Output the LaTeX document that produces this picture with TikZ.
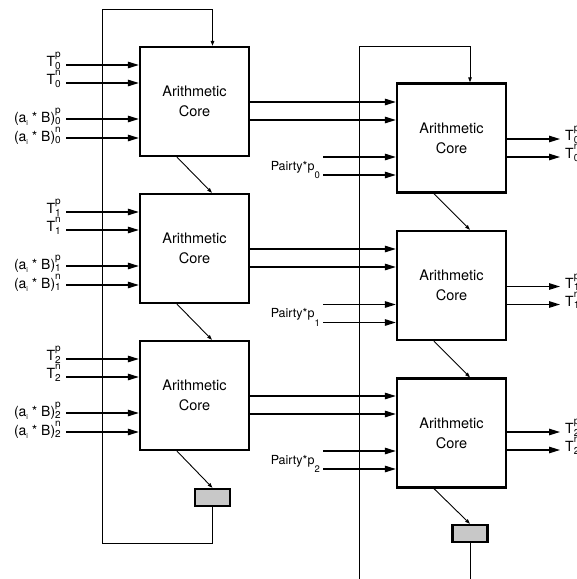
\documentclass[tikz,border=0pt]{standalone}
\usepackage{fontspec}
\setmainfont{TeX Gyre Heros}
\usetikzlibrary{arrows.meta}
\definecolor{regfill}{HTML}{C8C8C8}
\newcommand{\supsb}[2]{\rlap{\raisebox{9pt}{\fontsize{10}{10}\selectfont #1}}\raisebox{-2.5pt}{\fontsize{10}{10}\selectfont #2}}
\newcommand{\aiB}{(a\raisebox{-3.5pt}{\fontsize{7}{7}\selectfont i} * B)}
\newcommand{\pairty}[1]{Pairty*p\raisebox{-8.5pt}{\fontsize{9.5}{9.5}\selectfont #1}}
\begin{document}
\begin{tikzpicture}[x=1pt,y=-1pt,
  core/.style={draw,line width=2.3pt,minimum width=109pt,minimum height=109pt,inner sep=0pt,align=center,font=\fontsize{14.5}{20}\selectfont},
  reg/.style={draw,line width=2.3pt,fill=regfill,minimum width=35pt,minimum height=17pt,inner sep=0pt},
  big/.style={line width=1.3pt,-{Triangle[length=11pt,width=6.5pt]}},
  small/.style={line width=0.9pt,-{Triangle[length=5pt,width=3.5pt]}},
  fb/.style={line width=1pt},
  lbl/.style={inner sep=0pt,font=\fontsize{14}{14}\selectfont},
  plbl/.style={inner sep=0pt,font=\fontsize{12.5}{12.5}\selectfont}]
\useasboundingbox (0,0) rectangle (577,579);
\clip (0,0) rectangle (577,579);

% cores
\node[core] (L1) at (194.5,101.5) {Arithmetic\\Core};
\node[core] (L2) at (194.5,248.5) {Arithmetic\\Core};
\node[core] (L3) at (194.5,395.5) {Arithmetic\\Core};
\node[core] (R1) at (451.5,138) {Arithmetic\\Core};
\node[core] (R2) at (451.5,285.5) {Arithmetic\\Core};
\node[core] (R3) at (451.5,433) {Arithmetic\\Core};
\node[reg] (G1) at (212.5,497.5) {};
\node[reg] (G2) at (470,533.5) {};

% feedback loops
\coordinate (lb) at (102,543);
\coordinate (lt) at (102,9);
\draw[fb,-{Triangle[length=5pt,width=3.5pt]}] (G1.south) |- (lb) -- (lt) -| (L1.north -| G1.center);
\coordinate (rb) at (359,590);
\coordinate (rt) at (359,46);
\draw[fb,-{Triangle[length=5pt,width=3.5pt]}] (rb) -- (rt) -| (R1.north -| G2.center);
\draw[fb] (G2.south) -- (G2.south |- rb);

% left inputs
\foreach \n/\y in {0/65,1/212,2/359}{
  \coordinate (tp\n) at (66,\y);
  \coordinate (tn\n) at (66,\y+18);
  \coordinate (ap\n) at (66,\y+54);
  \coordinate (an\n) at (66,\y+73);
  \node[lbl,anchor=base east] at (61,\y+1.5) {T\supsb{p}{\n}};
  \node[lbl,anchor=base east] at (61,\y+19.5) {T\supsb{n}{\n}};
  \node[lbl,anchor=base east] at (61,\y+57) {\aiB\supsb{p}{\n}};
  \node[lbl,anchor=base east] at (61,\y+76) {\aiB\supsb{n}{\n}};
}
\foreach \n/\b in {0/L1,1/L2,2/L3}{
  \draw[big] (tp\n) -- (tp\n -| \b.west);
  \draw[big] (tn\n) -- (tn\n -| \b.west);
  \draw[big] (ap\n) -- (ap\n -| \b.west);
  \draw[big] (an\n) -- (an\n -| \b.west);
}

% left to right
\draw[big] (L1.east |- 0,102) -- (R1.west |- 0,102);
\draw[big] (L1.east |- 0,120) -- (R1.west |- 0,120);
\draw[big] (L2.east |- 0,249) -- (R2.west |- 0,249);
\draw[big] (L2.east |- 0,267) -- (R2.west |- 0,267);
\draw[big] (L3.east |- 0,396) -- (R3.west |- 0,396);
\draw[big] (L3.east |- 0,414) -- (R3.west |- 0,414);

% pairty inputs
\foreach \n/\y/\b in {0/157/R1,1/304.5/R2,2/451/R3}{
  \coordinate (pa\n) at (323,\y);
  \coordinate (pb\n) at (323,\y+18);
  \node[plbl,anchor=base east] at (320,\y+13) {\pairty{\n}};
  \draw[big] (pa\n) -- (pa\n -| \b.west);
  \draw[big] (pb\n) -- (pb\n -| \b.west);
}

% outputs
\foreach \n/\y/\b in {0/139/R1,1/286.5/R2,2/432/R3}{
  \coordinate (op\n) at (560,\y);
  \coordinate (on\n) at (560,\y+18);
  \draw[big] (\b.east |- op\n) -- (op\n);
  \draw[big] (\b.east |- on\n) -- (on\n);
  \node[lbl,anchor=base west] at (565,\y+1.5) {T\supsb{p}{\n}};
  \node[lbl,anchor=base west] at (565,\y+19.5) {T\supsb{n}{\n}};
}

% diagonal chain arrows
\draw[small] ([xshift=-17.5pt]L1.south) -- ([xshift=17.5pt]L2.north);
\draw[small] ([xshift=-17.5pt]L2.south) -- ([xshift=17.5pt]L3.north);
\draw[small] ([xshift=-17.5pt]L3.south) -- (G1.north);
\draw[small] ([xshift=-17.5pt]R1.south) -- ([xshift=18.5pt]R2.north);
\draw[small] ([xshift=-17.5pt]R2.south) -- ([xshift=18.5pt]R3.north);
\draw[small] ([xshift=-17.5pt]R3.south) -- (G2.north);
\end{tikzpicture}
\end{document}
